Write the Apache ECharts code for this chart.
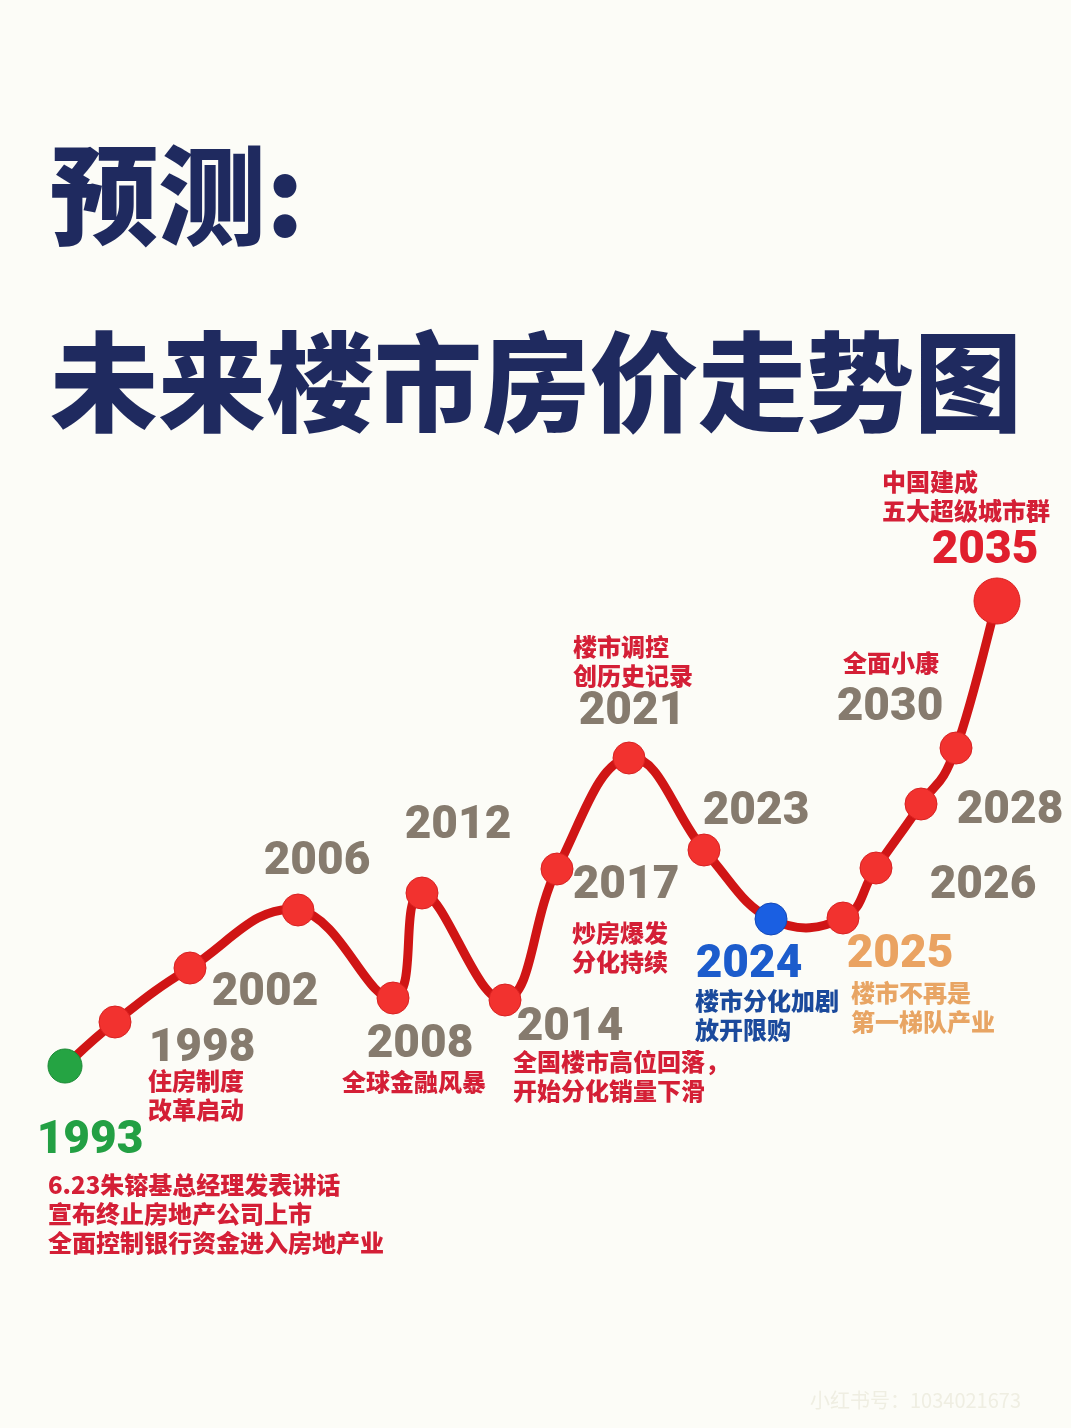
<!DOCTYPE html>
<html>
<head>
<meta charset="utf-8">
<script src="https://cdn.jsdelivr.net/npm/echarts@6/dist/echarts.min.js"></script>
<style>
html,body{margin:0;padding:0;background:#fcfcf7;}
#chart{width:1071px;height:1428px;}
</style>
</head>
<body>
<div id="chart"></div>
<script>
// ---- data ----
const years = ['1993','1998','2002','2006','2008','2012','2014','2017','2021','2023','2024','2025','2026','2028','2030','2035'];
// position along the (non-linear) timeline
const timeline = [6.5, 11.5, 19.0, 29.8, 39.3, 42.2, 50.5, 55.7, 62.9, 70.4, 77.1, 84.3, 87.6, 92.1, 95.6, 99.7];
// relative price level
const priceIndex = [3.4, 7.8, 13.2, 19.0, 10.2, 20.7, 10.0, 23.1, 34.2, 25.0, 18.1, 18.2, 23.2, 29.6, 35.2, 49.9];
const notes = [
  '6.23朱镕基总经理发表讲话\n宣布终止房地产公司上市\n全面控制银行资金进入房地产业',
  '住房制度\n改革启动',
  '',
  '',
  '全球金融风暴',
  '',
  '全国楼市高位回落，\n开始分化销量下滑',
  '炒房爆发\n分化持续',
  '楼市调控\n创历史记录',
  '',
  '楼市分化加剧\n放开限购',
  '楼市不再是\n第一梯队产业',
  '',
  '',
  '全面小康',
  '中国建成\n五大超级城市群'
];
const titleLine1 = '预测:';
const titleLine2 = '未来楼市房价走势图';
const watermark = '小红书号：1034021673';

// ---- layout / style tables ----
const yearOffset = {
  '1993':[25,75],'1998':[87,27],'2002':[75,25],'2006':[19,-48],'2008':[27,47],
  '2012':[36,-67],'2014':[65,28],'2017':[69,17],'2021':[3,-46],'2023':[52,-38],
  '2024':[-22,46],'2025':[57,37],'2026':[107,18],'2028':[89,7],'2030':[-66,-40],'2035':[-12,-50]
};
const noteOffset = {
  '1993':[-17,104],'1998':[33,44],'2008':[-51,69],'2014':[8,47],'2017':[15,49],
  '2021':[-56,-126],'2024':[-76,67],'2025':[8,60],'2030':[-113,-100],'2035':[-115,-134]
};
const GREY = '#867b6e', RED = '#d41f36';
const yearColor = {'1993':'#23a044','2024':'#1c5ccc','2025':'#eaa362','2035':'#e01f2d'};
const noteColor = {'2024':'#1b4a9c','2025':'#e8a564'};
const pointStyle = {
  '1993':{color:'#25a443',borderColor:'#1c8a36',size:34},
  '2024':{color:'#1a5fe2',borderColor:'#1448b8',size:32},
  '2035':{color:'#f2302f',borderColor:'#d82020',size:46}
};
const TENSION = 1.25;

const pts = years.map((y,i)=>[timeline[i], priceIndex[i]]);
const pointData = years.map((y,i)=>{
  const s = pointStyle[y] || {color:'#f2322f',borderColor:'#d82222',size:32};
  return {value:pts[i], symbolSize:s.size,
    itemStyle:{color:s.color,borderColor:s.borderColor,borderWidth:1,opacity:1}};
});
const yearData = years.map((y,i)=>({
  value:pts[i],
  label:{show:true, formatter:y, position:'inside', offset:yearOffset[y],
    color:yearColor[y]||GREY, align:'center', verticalAlign:'middle'}
}));
const noteData = [];
years.forEach((y,i)=>{
  if(!notes[i]) return;
  noteData.push({value:pts[i],
    label:{show:true, formatter:notes[i], position:'inside', offset:noteOffset[y],
      color:noteColor[y]||RED, align:'left', verticalAlign:'top'}});
});

// smooth curve segment (Catmull-Rom) from point i to i+1, positioned through api.coord
function renderSegment(params, api){
  const i = params.dataIndex, n = pts.length;
  if(i >= n-1) return {type:'group', children:[]};
  const c = j => api.coord(pts[Math.max(0, Math.min(n-1, j))]);
  const p0 = c(i-1), p1 = c(i), p2 = c(i+1), p3 = c(i+2);
  const k = TENSION/6;
  return {
    type:'bezierCurve',
    shape:{x1:p1[0], y1:p1[1], x2:p2[0], y2:p2[1],
      cpx1:p1[0]+(p2[0]-p0[0])*k, cpy1:p1[1]+(p2[1]-p0[1])*k,
      cpx2:p2[0]-(p3[0]-p1[0])*k, cpy2:p2[1]-(p3[1]-p1[1])*k},
    style:{stroke:'#d01515', lineWidth:9, fill:null, lineCap:'round'}
  };
}

const chart = echarts.init(document.getElementById('chart'), null, {renderer:'canvas'});
chart.setOption({
  backgroundColor:'#fcfcf7',
  animation:false,
  title:[
    {text:titleLine1, left:45, top:134,
      textStyle:{fontFamily:'"Noto Sans CJK SC"', fontWeight:900, fontSize:108, lineHeight:112, color:'#1f2a5f'}},
    {text:titleLine2, left:45, top:321,
      textStyle:{fontFamily:'"Noto Sans CJK SC"', fontWeight:900, fontSize:108, lineHeight:112, color:'#1f2a5f'}},
    {text:watermark, left:805, top:1385,
      textStyle:{fontFamily:'"Noto Sans CJK SC"', fontWeight:400, fontSize:20, color:'#efeee2'}}
  ],
  grid:{left:0, right:0, top:500, bottom:328},
  xAxis:{type:'value', min:0, max:107.1, show:false},
  yAxis:{type:'value', min:0, max:60, show:false},
  series:[
    {type:'custom', renderItem:renderSegment, data:pts, z:2},
    {type:'scatter', data:pointData, symbol:'circle', z:3, itemStyle:{opacity:1}},
    {type:'scatter', data:yearData, symbolSize:1, itemStyle:{color:'rgba(0,0,0,0)', opacity:1}, z:5,
      label:{fontFamily:'Roboto, "Liberation Sans", sans-serif', fontWeight:900, fontSize:46}},
    {type:'scatter', data:noteData, symbolSize:1, itemStyle:{color:'rgba(0,0,0,0)', opacity:1}, z:5,
      label:{fontFamily:'"Noto Sans CJK SC"', fontWeight:900, fontSize:24, lineHeight:29}}
  ]
});
</script>
</body>
</html>
